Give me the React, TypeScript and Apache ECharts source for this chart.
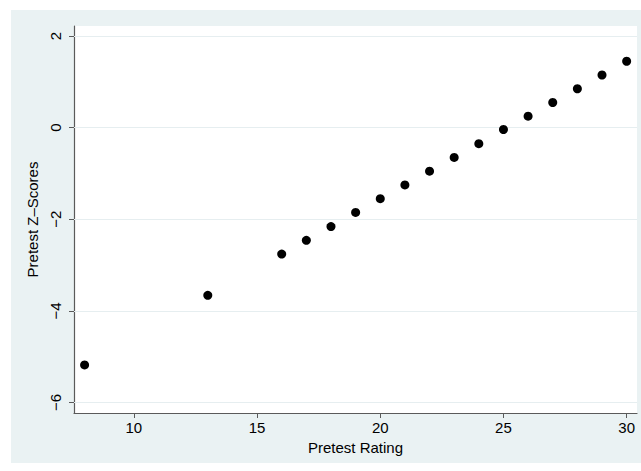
import React, { useEffect, useRef } from "react";
import * as echarts from "echarts";

const ratings = [8, 13, 16, 17, 18, 19, 20, 21, 22, 23, 24, 25, 26, 27, 28, 29, 30];
const zScores = [-5.18, -3.66, -2.76, -2.46, -2.16, -1.85, -1.55, -1.25, -0.95, -0.65, -0.35, -0.04, 0.25, 0.55, 0.85, 1.15, 1.45];
const xTicks = [10, 15, 20, 25, 30];
const yTicks = [-6, -4, -2, 0, 2];

export default function App() {
  const ref = useRef<HTMLDivElement>(null);
  useEffect(() => {
    if (!ref.current) return;
    const chart = echarts.init(ref.current, undefined, { renderer: "svg" });
    const font = "Liberation Sans, Arial, Helvetica, sans-serif";
    chart.setOption({
      animation: false,
      backgroundColor: "#ffffff",
      graphic: [
        {
          type: "rect",
          z: -10,
          shape: { x: 11, y: 10, width: 630, height: 453 },
          style: { fill: "#eaf2f3" },
          silent: true,
        },
      ],
      grid: {
        left: 74,
        top: 26,
        right: 4,
        bottom: 58,
        show: true,
        backgroundColor: "#ffffff",
        borderWidth: 0,
      },
      xAxis: {
        type: "value",
        min: 7.57,
        max: 30.42,
        name: "Pretest Rating",
        nameLocation: "middle",
        nameGap: 27,
        nameTextStyle: { fontFamily: font, fontSize: 15, color: "#000" },
        axisLine: { show: true, onZero: false, lineStyle: { color: "#5a5a5a", width: 1.2 } },
        axisTick: { show: true, length: 5, lineStyle: { color: "#5a5a5a" }, customValues: xTicks },
        axisLabel: { fontFamily: font, fontSize: 15, color: "#000", margin: 7, customValues: xTicks },
        splitLine: { show: false },
      },
      yAxis: {
        type: "value",
        min: -6.23,
        max: 2.22,
        name: "Pretest Z\u2013Scores",
        nameLocation: "middle",
        nameGap: 30,
        nameRotate: 90,
        nameTextStyle: { fontFamily: font, fontSize: 15, color: "#000" },
        axisLine: { show: true, onZero: false, lineStyle: { color: "#5a5a5a", width: 1.2 } },
        axisTick: { show: true, length: 5, lineStyle: { color: "#5a5a5a" }, customValues: yTicks },
        axisLabel: {
          fontFamily: font,
          fontSize: 15,
          color: "#000",
          rotate: 90,
          margin: 11,
          customValues: yTicks,
          formatter: (v: number) => (v < 0 ? "\u2212" + Math.abs(v) : String(v)),
        },
        splitLine: { show: false },
      },
      series: [
        {
          type: "scatter",
          data: ratings.map((r, i) => [r, zScores[i]]),
          symbol: "circle",
          symbolSize: 9,
          itemStyle: { color: "#000", opacity: 1 },
          markLine: {
            silent: true,
            symbol: "none",
            label: { show: false },
            lineStyle: { color: "#e6eef0", type: "solid", width: 1.2 },
            data: yTicks.map((t) => ({ yAxis: t })),
            z: 1,
          },
        },
      ],
    });
    return () => chart.dispose();
  }, []);
  return <div ref={ref} style={{ position: "absolute", left: 0, top: 0, width: 641, height: 471 }} />;
}
